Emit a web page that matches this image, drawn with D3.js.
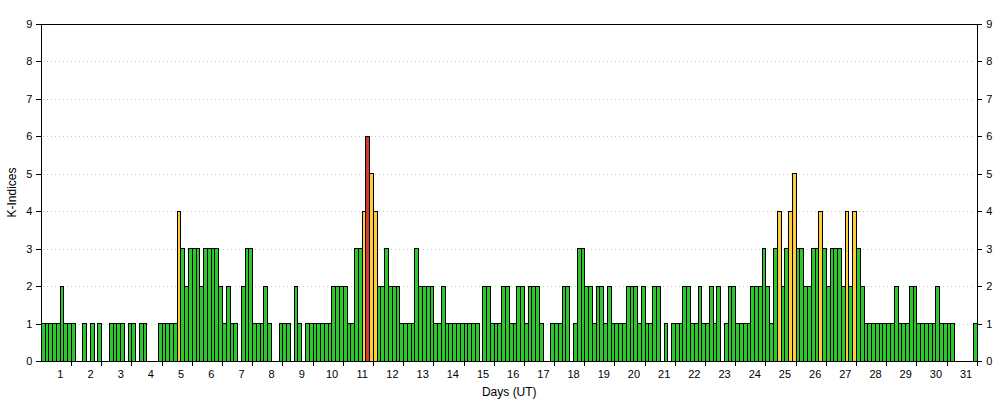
<!DOCTYPE html>
<html>
<head>
<meta charset="utf-8">
<script src="https://cdn.jsdelivr.net/npm/d3@7/dist/d3.min.js"></script>
<style>
  body { margin: 0; background: #fff; }
  svg { display: block; font-family: "Liberation Sans", Arial, sans-serif; }
  rect, line, path.domain { shape-rendering: crispEdges; }
</style>
</head>
<body>
<script>
/******************************************************************************/
/* DATA                                                                       */
/******************************************************************************/
var days = d3.range(1, 32);          // tick labels 1..31
var yTicks = d3.range(0, 10);        // 0..9
// 3-hour K values, 8 per day
var kValues = [
  1,1,1,1,1,2,1,1,   // 1
  1,0,0,1,0,1,0,1,   // 2
  0,0,1,1,1,1,0,1,   // 3
  1,0,1,1,0,0,0,1,   // 4
  1,1,1,1,4,3,2,3,   // 5
  3,3,2,3,3,3,3,2,   // 6
  1,2,1,1,0,2,3,3,   // 7
  1,1,1,2,1,0,0,1,   // 8
  1,1,0,2,1,0,1,1,   // 9
  1,1,1,1,1,2,2,2,   // 10
  2,1,1,3,3,4,6,5,   // 11
  4,2,2,3,2,2,2,1,   // 12
  1,1,1,3,2,2,2,2,   // 13
  1,1,2,1,1,1,1,1,   // 14
  1,1,1,1,0,2,2,1,   // 15
  1,1,2,2,1,1,2,2,   // 16
  1,2,2,2,1,0,0,1,   // 17
  1,1,2,2,0,1,3,3,   // 18
  2,2,1,2,2,1,2,1,   // 19
  1,1,1,2,2,2,1,2,   // 20
  1,1,2,2,0,1,0,1,   // 21
  1,1,2,2,1,1,2,1,   // 22
  1,2,1,2,0,1,2,2,   // 23
  1,1,1,1,2,2,2,3,   // 24
  2,1,3,4,2,3,4,5,   // 25
  3,3,2,2,3,3,4,3,   // 26
  2,3,3,3,2,4,2,4,   // 27
  3,2,1,1,1,1,1,1,   // 28
  1,1,2,1,1,1,2,2,   // 29
  1,1,1,1,1,2,1,1,   // 30
  1,1,0,0,0,0,0,1    // 31
];

/******************************************************************************/
/* GLOBAL                                                                     */
/******************************************************************************/
var width  = 1000;
var height = 400;
var plotLeft = 41.3, plotRight = 977.3, plotTop = 24, plotBottom = 361;

var barColor = function(k) {
  if (k >= 6) return '#d43a35';
  if (k >= 4) return '#ffcc3a';
  return '#2ec82e';
};

/******************************************************************************/
/* CHART                                                                      */
/******************************************************************************/
var svg = d3.select('body')
  .append('svg')
  .attr('width', width)
  .attr('height', height);

var x = d3.scaleBand()
  .domain(d3.range(kValues.length))
  .range([plotLeft, plotRight])
  .padding(0);

var xDay = d3.scaleBand()
  .domain(days)
  .range([plotLeft, plotRight])
  .padding(0);

var y = d3.scaleLinear()
  .domain([0, 9])
  .range([plotBottom, plotTop]);

// dotted grid
svg.append('g')
  .selectAll('line')
  .data(yTicks.filter(function(d) { return d > 0 && d < 9; }))
  .enter()
  .append('line')
  .attr('x1', plotLeft + 2)
  .attr('x2', plotRight - 2)
  .attr('y1', function(d) { return Math.round(y(d)) + 0.5; })
  .attr('y2', function(d) { return Math.round(y(d)) + 0.5; })
  .attr('stroke', '#c8c8c8')
  .attr('stroke-dasharray', '1,3');

// bars
svg.append('g')
  .selectAll('rect')
  .data(kValues.map(function(k, i) { return {i: i, k: k}; })
    .filter(function(d) { return d.k > 0; }))
  .enter()
  .append('rect')
  .attr('x', function(d) { return x(d.i); })
  .attr('y', function(d) { return y(d.k); })
  .attr('width', x.bandwidth())
  .attr('height', function(d) { return y(0) - y(d.k); })
  .attr('fill', function(d) { return barColor(d.k); })
  .attr('stroke', '#000')
  .attr('stroke-width', 1);

// axes
svg.append('g')
  .attr('transform', 'translate(' + plotLeft + ',0)')
  .call(d3.axisLeft(y).tickValues(yTicks).tickSize(5).tickPadding(4));

svg.append('g')
  .attr('transform', 'translate(' + plotRight + ',0)')
  .call(d3.axisRight(y).tickValues(yTicks).tickSize(5).tickPadding(4));

var xAxis = svg.append('g')
  .attr('transform', 'translate(0,' + plotBottom + ')')
  .call(d3.axisBottom(xDay).tickSize(5).tickFormat('').tickSizeOuter(0));
// move ticks to the day boundaries
xAxis.selectAll('.tick')
  .attr('transform', function(d) { return 'translate(' + (xDay(d) + xDay.bandwidth()) + ',0)'; });

// day labels
svg.append('g')
  .selectAll('text')
  .data(days)
  .enter()
  .append('text')
  .attr('x', function(d) { return xDay(d) + xDay.bandwidth() * 0.63; })
  .attr('y', plotBottom + 17)
  .attr('text-anchor', 'middle')
  .attr('font-size', 11)
  .attr('fill', '#000')
  .text(function(d) { return d; });

// top border
svg.append('line')
  .attr('x1', plotLeft).attr('x2', plotRight)
  .attr('y1', plotTop).attr('y2', plotTop)
  .attr('stroke', '#000');

svg.selectAll('.domain').attr('stroke', '#000');
svg.selectAll('.tick text').attr('font-size', 11).attr('fill', '#000')
  .attr('font-family', '"Liberation Sans", Arial, sans-serif');

// titles
svg.append('text')
  .attr('x', (plotLeft + plotRight) / 2)
  .attr('y', 396)
  .attr('text-anchor', 'middle')
  .attr('font-size', 12)
  .text('Days (UT)');

svg.append('text')
  .attr('transform', 'translate(16,' + (plotTop + plotBottom) / 2 + ') rotate(-90)')
  .attr('text-anchor', 'middle')
  .attr('font-size', 12)
  .text('K-Indices');
</script>
</body>
</html>
